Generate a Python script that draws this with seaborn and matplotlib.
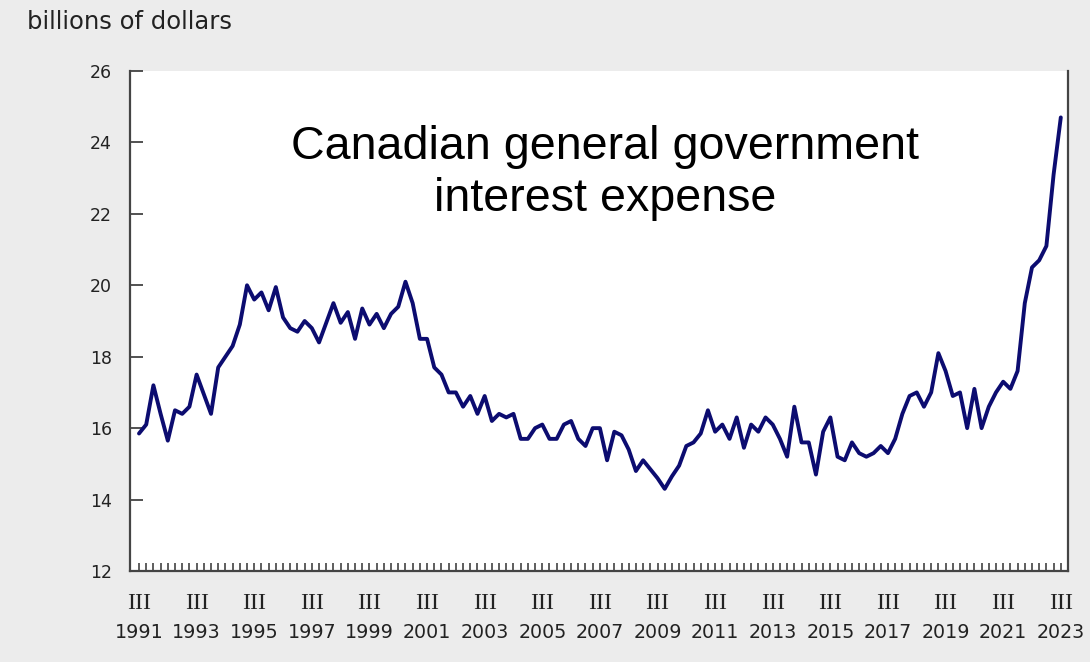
import numpy as np
import pandas as pd
import matplotlib
matplotlib.use("Agg")
import matplotlib.pyplot as plt
import matplotlib.transforms as mtransforms
import seaborn as sns

# ---- data: quarterly, 1991 Q3 .. 2023 Q3 (billions of dollars) ----
start_year = 1991
start_quarter = 3
values = [
    15.85, 16.1, 17.2, 16.4, 15.65, 16.5, 16.4, 16.6, 17.5, 16.95,
    16.4, 17.7, 18.0, 18.3, 18.9, 20.0, 19.6, 19.8, 19.3, 19.95,
    19.1, 18.8, 18.7, 19.0, 18.8, 18.4, 18.95, 19.5, 18.95, 19.25,
    18.5, 19.35, 18.9, 19.2, 18.8, 19.2, 19.4, 20.1, 19.5, 18.5,
    18.5, 17.7, 17.5, 17.0, 17.0, 16.6, 16.9, 16.4, 16.9, 16.2,
    16.4, 16.3, 16.4, 15.7, 15.7, 16.0, 16.1, 15.7, 15.7, 16.1,
    16.2, 15.7, 15.5, 16.0, 16.0, 15.1, 15.9, 15.8, 15.4, 14.8,
    15.1, 14.85, 14.6, 14.3, 14.65, 14.95, 15.5, 15.6, 15.85, 16.5,
    15.9, 16.1, 15.7, 16.3, 15.45, 16.1, 15.9, 16.3, 16.1, 15.7,
    15.2, 16.6, 15.6, 15.6, 14.7, 15.9, 16.3, 15.2, 15.1, 15.6,
    15.3, 15.2, 15.3, 15.5, 15.3, 15.7, 16.4, 16.9, 17.0, 16.6,
    17.0, 18.1, 17.6, 16.9, 17.0, 16.0, 17.1, 16.0, 16.6, 17.0,
    17.3, 17.1, 17.6, 19.5, 20.5, 20.7, 21.1, 23.1, 24.7,
]
label_years = list(range(1991, 2024, 2))
quarter_label = "III"
y_ticks = [12, 14, 16, 18, 20, 22, 24, 26]
y_axis_title = "billions of dollars"
chart_title = "Canadian general government\ninterest expense"

# ---- build frame ----
idx = np.arange(len(values))
df = pd.DataFrame({"q": idx, "value": values})
year_of = lambda i: start_year + (start_quarter - 1 + i) // 4
label_pos = [i for i in idx if (start_quarter - 1 + i) % 4 == 2 and year_of(i) in label_years]

sns.set_theme(style="white")
plt.rcParams["font.family"] = ["DejaVu Sans"]

fig = plt.figure(figsize=(10.9, 6.62), dpi=100, facecolor="#ececec")
ax = fig.add_axes([130 / 1090, 1 - 571 / 662, (1068 - 130) / 1090, (571 - 71) / 662])
ax.set_facecolor("white")

sns.lineplot(data=df, x="q", y="value", ax=ax, color="#0c0c70", linewidth=2.8)

ax.set_xlim(-1.25, len(values))
ax.set_ylim(12, 26)
ax.set_yticks(y_ticks)
ax.set_yticklabels([str(t) for t in y_ticks], fontsize=12.5, color="#222222")
ax.tick_params(axis="y", left=True, direction="in", length=9, width=1.2,
               color="#333333", pad=13)

ax.set_xticks(label_pos)
ax.set_xticklabels([quarter_label] * len(label_pos), fontsize=17,
                   family="Liberation Serif", color="#222222")
ax.set_xticks(idx, minor=True)
ax.tick_params(axis="x", which="both", bottom=True, direction="in", length=6,
               width=1.1, color="#333333", pad=16)

trans = mtransforms.blended_transform_factory(ax.transData, ax.transAxes)
for p in label_pos:
    ax.text(p, -0.122, str(year_of(p)), transform=trans, ha="center", va="center",
            fontsize=13.7, color="#222222")

for side in ["left", "bottom", "right"]:
    ax.spines[side].set_visible(True)
    ax.spines[side].set_color("#444444")
    ax.spines[side].set_linewidth(1.6)
ax.spines["top"].set_visible(False)

ax.set_xlabel("")
ax.set_ylabel("")
ax.grid(False)

fig.text(27 / 1090, 1 - 22 / 662, y_axis_title, ha="left", va="center",
         fontsize=17.5, color="#222222")
fig.text(605 / 1090, 1 - 173 / 662, chart_title, ha="center", va="center",
         fontsize=33.6, family="Liberation Sans", color="black", linespacing=1.22)

fig.savefig("out.png", dpi=100, facecolor=fig.get_facecolor())
